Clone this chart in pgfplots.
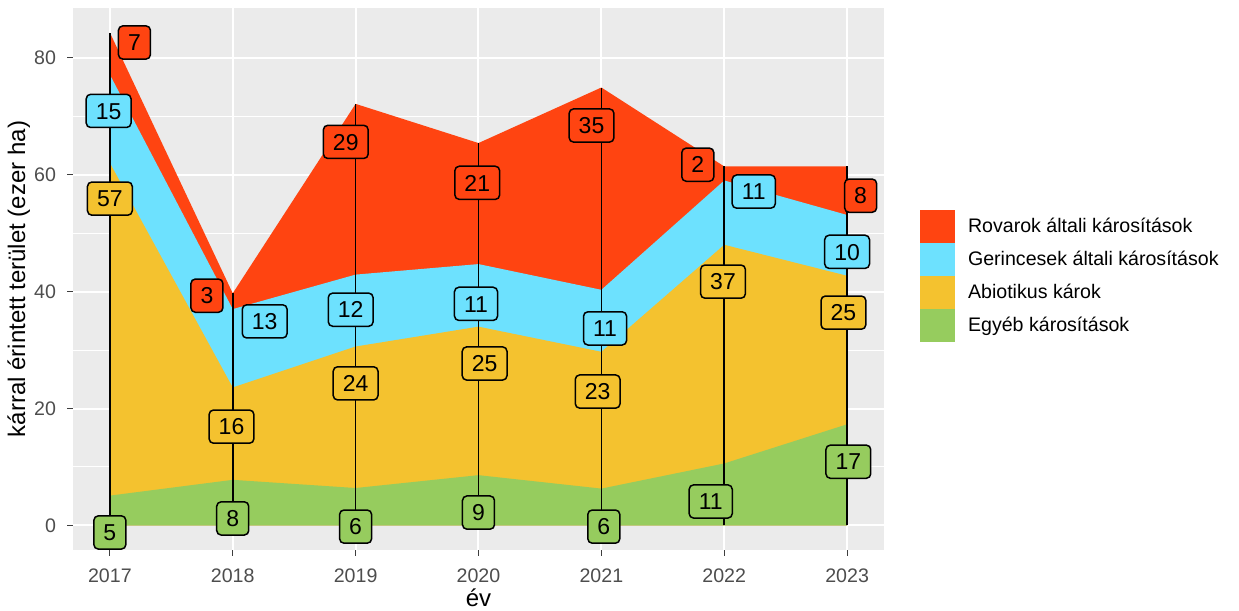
\documentclass[border=0pt]{standalone}
\usepackage{pgfplots}
\pgfplotsset{compat=1.18}
\usepackage{fontspec}
\setmainfont{Liberation Sans}

\definecolor{cRov}{HTML}{FF4411}
\definecolor{cGer}{HTML}{6DE1FE}
\definecolor{cAbi}{HTML}{F4C22F}
\definecolor{cEgy}{HTML}{96CC5E}
\definecolor{ggbg}{HTML}{EBEBEB}
\definecolor{ggtick}{HTML}{4D4D4D}

\tikzset{lbl/.style={draw=black, line width=0.75pt, rounded corners=2.2pt, text=black,
    font=\fontsize{11.5}{11.5}\selectfont, inner xsep=4.8pt, inner ysep=4.2pt,
    text height=8.2pt, text depth=0pt, anchor=center}}

\begin{document}
\begin{tikzpicture}
\useasboundingbox (-36.5pt,-30.5pt) rectangle (583pt,275pt);
\begin{axis}[
    at={(0,0)}, anchor=south west,
    scale only axis,
    width=405.5pt, height=271pt,
    xmin=2016.7, xmax=2023.3,
    ymin=-4.2, ymax=88.5,
    xtick={2017,2018,2019,2020,2021,2022,2023},
    ytick={0,20,40,60,80},
    minor ytick={10,30,50,70},
    minor tick length=0pt,
    major tick length=2.8pt,
    tick align=outside,
    tick pos=left,
    tick style={draw=ggtick!80!black, line width=0.5pt},
    axis line style={draw=none},
    axis background/.style={fill=ggbg},
    xmajorgrids, ymajorgrids, yminorgrids,
    major grid style={draw=white, line width=1pt},
    minor grid style={draw=white, line width=0.5pt},
    /pgf/number format/assume math mode=true,
    /pgf/number format/1000 sep={},
    tick label style={font=\fontsize{9.8}{9.8}\selectfont, text=ggtick, inner sep=0pt},
    yticklabel style={anchor=east, xshift=-5.5pt},
    xticklabel style={anchor=north, yshift=-6.5pt},
    xlabel={év},
    ylabel={kárral érintett terület (ezer ha)},
    label style={font=\fontsize{12}{12}\selectfont},
    xlabel style={at={(axis description cs:0.5,-0.088)}, anchor=center},
    ylabel style={at={(axis description cs:-0.067,0.5)}, anchor=center},
    legend style={at={(1.044,0.505)}, anchor=west, draw=none, fill=none,
        inner sep=0pt, row sep=0pt, font=\fontsize{9.8}{9.8}\selectfont,
        nodes={inner xsep=0pt, inner ysep=0pt},
        /tikz/every odd column/.append style={column sep=6.5pt}},
    legend cell align=left,
    legend image code/.code={\fill[#1] (0pt,-8.25pt) rectangle (17.5pt,8.25pt);},
]
% cumulative tops of the stacked layers, drawn from the top layer down
\addplot[fill=cRov, draw=none] coordinates {
    (2017,84.3) (2018,39.7) (2019,72.1) (2020,65.4) (2021,74.9) (2022,61.4) (2023,61.4)
} \closedcycle;
\addlegendentry{Rovarok általi károsítások}
\addplot[fill=cGer, draw=none] coordinates {
    (2017,77.1) (2018,37.0) (2019,42.9) (2020,44.7) (2021,40.3) (2022,59.0) (2023,53.1)
} \closedcycle;
\addlegendentry{Gerincesek általi károsítások}
\addplot[fill=cAbi, draw=none] coordinates {
    (2017,62.0) (2018,23.6) (2019,30.6) (2020,34.0) (2021,29.7) (2022,48.0) (2023,42.7)
} \closedcycle;
\addlegendentry{Abiotikus károk}
\addplot[fill=cEgy, draw=none] coordinates {
    (2017,5.1) (2018,7.8) (2019,6.4) (2020,8.6) (2021,6.3) (2022,10.6) (2023,17.3)
} \closedcycle;
\addlegendentry{Egyéb károsítások}

% vertical lines up to the yearly totals
\addplot[ycomb, black, line width=0.85pt, no markers, forget plot]
    coordinates {(2017,84.3) (2018,39.7) (2019,72.1) (2020,65.4) (2021,74.9) (2022,61.4) (2023,61.4)};

% value labels (repelled positions)
\addplot[draw=none, no markers, forget plot, nodes near coords, point meta=explicit symbolic,
    every node near coord/.append style={lbl, fill=cRov}]
    coordinates {(2017.2,82.6)[7] (2017.79,39.3)[3] (2018.92,65.6)[29] (2019.99,58.6)[21]
                 (2020.92,68.4)[35] (2021.785,61.7)[2] (2023.11,56.4)[8]};
\addplot[draw=none, no markers, forget plot, nodes near coords, point meta=explicit symbolic,
    every node near coord/.append style={lbl, fill=cGer}]
    coordinates {(2016.99,70.9)[15] (2018.26,34.9)[13] (2018.96,36.9)[12] (2019.98,37.9)[11]
                 (2021.03,33.7)[11] (2022.24,57.1)[11] (2023.0,46.8)[10]};
\addplot[draw=none, no markers, forget plot, nodes near coords, point meta=explicit symbolic,
    every node near coord/.append style={lbl, fill=cAbi}]
    coordinates {(2017,55.9)[57] (2017.99,16.9)[16] (2019.0,24.3)[24] (2020.05,27.7)[25]
                 (2020.97,22.9)[23] (2021.99,41.7)[37] (2022.97,36.4)[25]};
\addplot[draw=none, no markers, forget plot, nodes near coords, point meta=explicit symbolic,
    every node near coord/.append style={lbl, fill=cEgy}]
    coordinates {(2017,-1.2)[5] (2018.0,1.2)[8] (2019.0,-0.2)[6] (2020.0,2.2)[9]
                 (2021.02,-0.2)[6] (2021.89,4.1)[11] (2023.01,10.9)[17]};
\end{axis}
\end{tikzpicture}
\end{document}
